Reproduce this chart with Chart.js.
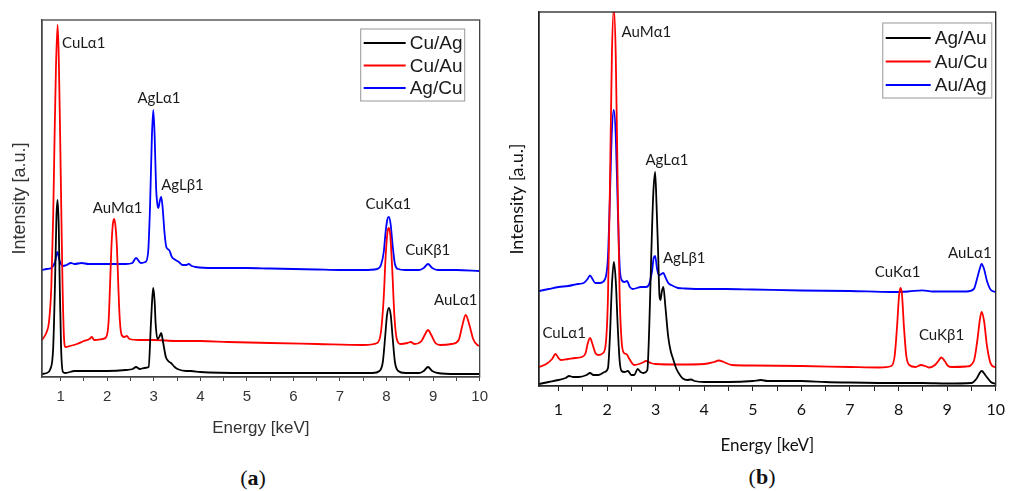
<!DOCTYPE html>
<html lang="en">
<head>
<meta charset="UTF-8">
<title>EDS spectra</title>
<style>
  body { margin: 0; background: #fff; width: 1014px; height: 491px; position: relative; overflow: hidden; }
  canvas { position: absolute; top: 0; }
  #chartA { left: 0; }
  #chartB { left: 500px; }
  .cap { position: absolute; font-family: "Liberation Serif", serif; font-size: 22px; color: #111; transform: translate(-50%, -50%); }
</style>
</head>
<body>
<canvas id="chartA" width="495" height="450"></canvas>
<canvas id="chartB" width="514" height="460"></canvas>
<div class="cap" style="left:253px;top:478px">(<b>a</b>)</div>
<div class="cap" style="left:762px;top:477px">(<b>b</b>)</div>

<script src="https://cdn.jsdelivr.net/npm/chart.js"></script>
<script>
// energy [keV], intensity [a.u.]

// panel (a)
const cuAg = [[0.6,3],[0.7,4],[0.78,8],[0.84,29],[0.88,95],[0.91,160],[0.935,177],[0.96,150],[0.98,95],[1.01,29],[1.05,5],[1.1,4],[1.3,6],[1.6,6],[2.0,6],[2.4,7],[2.55,8],[2.62,10],[2.7,8],[2.8,9],[2.89,10],[2.94,54],[2.97,80],[2.99,89],[3.02,75],[3.04,54],[3.08,38],[3.12,40],[3.16,44],[3.2,35],[3.26,20],[3.31,16],[3.37,14],[3.45,10],[3.51,8],[3.7,6],[3.8,6],[4.0,5],[5.0,4],[6.0,4],[7.0,4],[7.7,4],[7.85,6],[7.92,15],[7.97,40],[8.01,62],[8.05,69],[8.09,62],[8.13,40],[8.18,15],[8.25,6],[8.4,4],[8.7,4],[8.8,6],[8.89,10],[8.98,6],[9.1,4],[9.5,3],[10.0,3]];

const cuAu = [[0.6,37],[0.7,45],[0.75,55],[0.8,90],[0.84,160],[0.87,240],[0.9,310],[0.935,352],[0.96,320],[0.99,240],[1.02,150],[1.04,95],[1.07,42],[1.1,30],[1.2,31],[1.35,33],[1.5,36],[1.62,38],[1.67,40],[1.72,37],[1.9,38],[1.98,40],[2.03,55],[2.06,90],[2.09,129],[2.12,152],[2.15,158],[2.18,150],[2.21,129],[2.24,90],[2.27,58],[2.31,42],[2.37,40],[2.42,41],[2.48,38],[2.7,37],[3.0,37],[3.5,36],[4.0,36],[4.6,35],[5.5,34],[6.5,33],[7.5,32],[7.8,34],[7.88,45],[7.94,80],[7.98,120],[8.02,145],[8.05,149],[8.08,142],[8.12,110],[8.17,60],[8.22,38],[8.3,33],[8.45,34],[8.52,35],[8.6,33],[8.75,36],[8.82,42],[8.89,47],[8.96,42],[9.05,34],[9.15,32],[9.4,33],[9.55,37],[9.62,50],[9.7,62],[9.78,52],[9.86,38],[9.95,32],[10.0,31]];

const agCu = [[0.6,107],[0.7,108],[0.8,109],[0.88,115],[0.93,125],[0.98,116],[1.05,111],[1.13,112],[1.22,114],[1.3,113],[1.45,114],[1.6,113],[1.8,113],[2.0,113],[2.2,113],[2.4,113],[2.54,114],[2.62,119],[2.72,114],[2.82,115],[2.88,125],[2.92,170],[2.96,240],[2.99,267],[3.02,240],[3.05,190],[3.08,172],[3.1,169],[3.13,176],[3.16,180],[3.19,170],[3.23,145],[3.27,130],[3.33,127],[3.39,120],[3.47,117],[3.54,115],[3.62,112],[3.7,112],[3.75,113],[3.82,111],[3.9,110],[4.3,109],[5.0,109],[5.5,108.5],[6.0,108],[6.5,107.5],[7.0,107],[7.5,107],[7.8,108],[7.88,112],[7.94,125],[7.98,145],[8.02,158],[8.05,160],[8.09,152],[8.13,132],[8.18,113],[8.25,108],[8.4,107],[8.7,107],[8.8,109],[8.89,113],[8.98,109],[9.1,107],[9.5,107],[10.0,106]];

const peaksA = [['CuLα1',1.03,334],['AgLα1',2.65,279],['AgLβ1',3.16,192],['AuMα1',1.69,169],['CuKα1',7.55,173],['CuKβ1',8.4,127],['AuLα1',9.02,77]];

// panel (b)
const agAu = [[0.6,2],[0.8,4],[1.0,6],[1.15,8],[1.22,10],[1.3,9],[1.42,9],[1.58,11],[1.65,13],[1.72,11],[1.82,11],[1.95,14],[2.02,18],[2.06,50],[2.1,100],[2.14,124],[2.18,105],[2.22,60],[2.26,25],[2.3,15],[2.36,14],[2.43,15],[2.5,11],[2.56,11],[2.63,17],[2.69,14],[2.75,13],[2.83,16],[2.87,60],[2.91,130],[2.95,190],[2.99,214],[3.02,180],[3.05,136],[3.08,90],[3.1,86],[3.13,95],[3.16,99],[3.2,80],[3.26,49],[3.31,35],[3.36,27],[3.42,18],[3.5,11],[3.56,7.5],[3.65,6],[3.73,6.5],[3.8,5],[4.0,4],[4.5,4],[5.0,5],[5.17,6],[5.3,5],[6.0,5],[6.5,4],[7.0,3.5],[8.0,3],[8.5,3],[9.0,2.5],[9.5,3],[9.6,7],[9.71,15],[9.8,10],[9.9,4],[10.0,2]];

const auCu = [[0.6,19],[0.75,22],[0.87,27],[0.94,32],[1.0,28],[1.05,26],[1.2,27],[1.35,28],[1.48,29],[1.56,33],[1.6,42],[1.65,48],[1.7,42],[1.76,33],[1.82,31],[1.92,33],[1.98,45],[2.02,90],[2.06,200],[2.1,330],[2.14,378],[2.18,330],[2.22,200],[2.26,90],[2.3,45],[2.35,33],[2.4,32],[2.46,27],[2.56,21],[2.66,22],[2.76,24],[2.8,25],[2.9,23],[3.0,22],[3.5,21.5],[4.0,22],[4.2,24],[4.3,25.5],[4.4,24],[4.57,21],[5.0,20.5],[6.0,20],[7.0,19],[7.6,18.5],[7.85,20],[7.92,30],[7.97,60],[8.01,90],[8.04,98],[8.07,92],[8.11,60],[8.16,30],[8.22,21],[8.35,19],[8.46,21],[8.55,20],[8.63,18.5],[8.75,21],[8.82,25],[8.88,28.5],[8.95,25],[9.02,20],[9.1,19],[9.4,19.5],[9.55,25],[9.62,45],[9.67,65],[9.71,74],[9.76,65],[9.82,40],[9.9,22],[10.0,18.5]];

const auAg = [[0.6,95],[0.8,97],[1.0,99],[1.2,100],[1.4,102],[1.52,103],[1.6,107],[1.65,110.7],[1.7,107],[1.76,103],[1.85,103],[1.95,106],[2.02,130],[2.06,190],[2.1,255],[2.14,276],[2.18,250],[2.22,180],[2.26,120],[2.3,106],[2.36,104],[2.41,105],[2.47,99],[2.53,97],[2.7,99],[2.8,99],[2.86,101],[2.9,108],[2.93,116],[2.96,128],[2.99,130],[3.03,117],[3.07,110.7],[3.12,112],[3.16,113],[3.2,109],[3.26,103],[3.33,100.7],[3.46,98],[3.6,97.5],[4.0,97],[4.44,97],[5.0,96.5],[6.0,95.5],[7.0,95],[7.85,94],[8.2,94.5],[8.49,95.7],[8.7,94.5],[9.4,94.5],[9.55,97],[9.62,108],[9.67,117],[9.71,122],[9.76,117],[9.82,105],[9.9,96],[10.0,94]];

const peaksB = [['AuMα1',2.3,354],['AgLα1',2.79,226],['AgLβ1',3.15,128],['CuLα1',0.67,53],['CuKα1',7.51,114],['CuKβ1',8.42,51],['AuLα1',9.02,133]];

const energyTicks = [1,1.5,2,2.5,3,3.5,4,4.5,5,5.5,6,6.5,7,7.5,8,8.5,9,9.5,10];

// frame, peak labels and boxed legend drawn over the plot
const extras = {
    id: 'extras',
    afterDatasetsDraw(chart, args, o) {
        const { ctx, chartArea: a, scales: { x, y } } = chart;
        ctx.save();
        ctx.strokeStyle = o.frameColor;
        ctx.lineWidth = 1.3;
        ctx.strokeRect(a.left, a.top, a.right - a.left, a.bottom - a.top);

        ctx.fillStyle = '#1a1a1a';
        ctx.font = o.peakFont;
        ctx.textAlign = 'left';
        ctx.textBaseline = 'middle';
        o.peaks.forEach(p => ctx.fillText(p[0], x.getPixelForValue(p[1]), y.getPixelForValue(p[2])));

        const L = o.legend;
        const bx = a.right - L.fromRight, by = a.top + L.fromTop;
        ctx.fillStyle = '#fff';
        ctx.fillRect(bx, by, L.w, L.h);
        ctx.strokeStyle = '#a8a8a8';
        ctx.lineWidth = 1.2;
        ctx.strokeRect(bx, by, L.w, L.h);
        ctx.font = L.font;
        chart.data.datasets.forEach((ds, i) => {
            const ry = by + L.first + i * L.gap;
            ctx.strokeStyle = ds.borderColor;
            ctx.lineWidth = 2;
            ctx.beginPath();
            ctx.moveTo(bx + 3, ry);
            ctx.lineTo(bx + L.lineLen, ry);
            ctx.stroke();
            ctx.fillStyle = '#1a1a1a';
            ctx.fillText(ds.label, bx + L.textAt, ry + 1);
        });
        ctx.restore();
    }
};

function series(label, pts, color) {
    return {
        label: label,
        data: pts.map(p => ({ x: p[0], y: p[1] })),
        borderColor: color,
        borderWidth: 1.8,
        pointRadius: 0,
        cubicInterpolationMode: 'monotone',
        fill: false
    };
}

function makeChart(id, cfg) {
    return new Chart(document.getElementById(id), {
        type: 'line',
        data: { datasets: cfg.datasets },
        plugins: [extras],
        options: {
            responsive: false,
            animation: false,
            events: [],
            layout: { padding: cfg.padding },
            plugins: {
                legend: { display: false },
                tooltip: { enabled: false },
                extras: { peaks: cfg.peaks, peakFont: cfg.peakFont, legend: cfg.legend, frameColor: cfg.axisColor }
            },
            scales: {
                x: {
                    type: 'linear',
                    min: 0.6,
                    max: 10,
                    afterBuildTicks: s => { s.ticks = energyTicks.map(v => ({ value: v })); },
                    afterFit: s => { s.height = cfg.xHeight; },
                    grid: { drawOnChartArea: false, tickLength: cfg.tickLen, color: cfg.axisColor, tickWidth: 1 },
                    border: { color: cfg.axisColor, width: 1.3 },
                    ticks: {
                        autoSkip: false,
                        maxRotation: 0,
                        padding: cfg.tickPad,
                        color: cfg.textColor,
                        font: cfg.tickFont,
                        callback: v => Number.isInteger(v) ? v : ''
                    },
                    title: { display: true, text: 'Energy [keV]', color: cfg.textColor, font: cfg.titleFont, padding: { top: 0, bottom: cfg.xTitlePad } }
                },
                y: {
                    min: 0,
                    max: cfg.yMax,
                    afterFit: s => { s.width = cfg.yWidth; },
                    grid: { display: false },
                    border: { color: cfg.axisColor, width: 1.3 },
                    ticks: { display: false },
                    title: { display: true, text: 'Intensity [a.u.]', color: cfg.textColor, font: cfg.yTitleFont, padding: { top: cfg.yTitlePad, bottom: 0 } }
                }
            }
        }
    });
}

makeChart('chartA', {
    datasets: [series('Cu/Ag', cuAg, '#000000'), series('Cu/Au', cuAu, '#ff0000'), series('Ag/Cu', agCu, '#0000ff')],
    peaks: peaksA,
    peakFont: '15px Lato, "Open Sans", sans-serif',
    legend: { fromRight: 119, fromTop: 9, w: 104, h: 72, first: 14, gap: 22.5, lineLen: 45, textAt: 49, font: '19px "Liberation Sans", Arial, sans-serif' },
    padding: { top: 20, right: 12, left: 0, bottom: 0 },
    xHeight: 73, yWidth: 42, yMax: 357,
    tickLen: 4, tickPad: 7, xTitlePad: 11, yTitlePad: 9,
    axisColor: '#444', textColor: '#333',
    tickFont: { family: '"Liberation Sans", Arial, sans-serif', size: 15 },
    titleFont: { family: '"Liberation Sans", Arial, sans-serif', size: 17 },
    yTitleFont: { family: '"Liberation Sans", Arial, sans-serif', size: 18 }
});

makeChart('chartB', {
    datasets: [series('Ag/Au', agAu, '#000000'), series('Au/Cu', auCu, '#ff0000'), series('Au/Ag', auAg, '#0000ff')],
    peaks: peaksB,
    peakFont: '15px Lato, "Open Sans", sans-serif',
    legend: { fromRight: 113, fromTop: 11, w: 109, h: 75, first: 15, gap: 23.5, lineLen: 48, textAt: 52, font: '19px "Liberation Sans", Arial, sans-serif' },
    padding: { top: 12, right: 7, left: 0, bottom: 0 },
    xHeight: 74, yWidth: 39, yMax: 374,
    tickLen: 5, tickPad: 9, xTitlePad: 4, yTitlePad: 6,
    axisColor: '#222', textColor: '#111',
    tickFont: { family: 'Lato, "Open Sans", sans-serif', size: 16 },
    titleFont: { family: 'Lato, "Open Sans", sans-serif', size: 17 },
    yTitleFont: { family: 'Lato, "Open Sans", sans-serif', size: 18 }
});
</script>
</body>
</html>
